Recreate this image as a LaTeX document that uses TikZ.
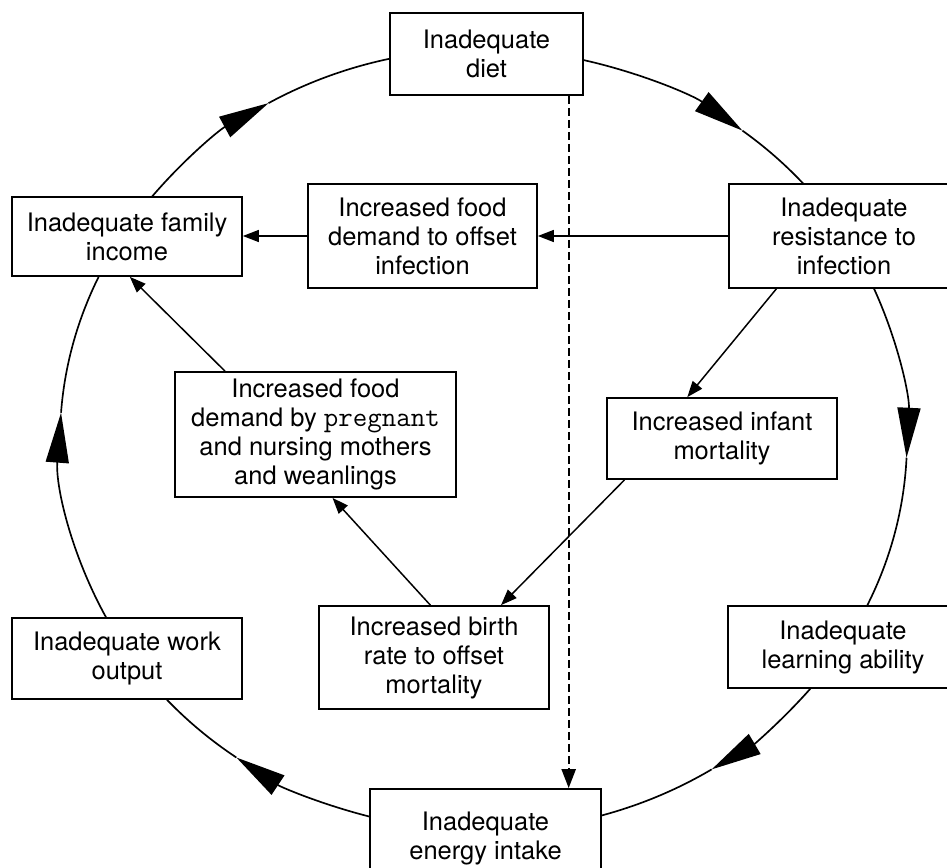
\documentclass[tikz,border=0pt]{standalone}
\usepackage{fontspec}
\setmainfont{TeX Gyre Heros}
\usetikzlibrary{arrows.meta,backgrounds}

\begin{document}
\begin{tikzpicture}[x=0.02cm,y=-0.02cm,
  box/.style={draw, line width=1pt, fill=white, align=center, inner sep=0pt,
    font=\fontsize{14.5}{16.5}\selectfont},
  ring/.style={line width=0.95pt},
  bigtip/.style={-{Triangle[length=1cm,width=0.46cm]}},
  link/.style={line width=0.85pt,-{Triangle[length=0.32cm,width=0.24cm]}},
  dashlink/.style={line width=1.3pt, dash pattern=on 0.16cm off 0.08cm,
    -{Triangle[length=0.38cm,width=0.28cm]}},
]
\useasboundingbox (0,0) rectangle (947,868);

% boxes
\node[box, minimum width=3.86cm, minimum height=1.64cm] (diet) at (486.5,54) {Inadequate\\diet};
\node[box, minimum width=4.6cm, minimum height=1.58cm] (income) at (127,236.5) {Inadequate family\\income};
\node[box, minimum width=4.58cm, minimum height=2.08cm] (offset) at (422.5,236) {Increased food\\demand to offset\\infection};
\node[box, minimum width=4.6cm, minimum height=2.08cm] (resist) at (844,236) {Inadequate\\resistance to\\infection};
\node[box, minimum width=5.62cm, minimum height=2.5cm] (mothers) at (315.5,434.5) {Increased food\\demand by {\fontsize{16}{16.5}\selectfont\ttfamily pregnant}\\and nursing mothers\\and weanlings};
\node[box, minimum width=4.6cm, minimum height=1.62cm] (infant) at (722,438.5) {Increased infant\\mortality};
\node[box, minimum width=4.6cm, minimum height=2.06cm] (birth) at (434,657.5) {Increased birth\\rate to offset\\mortality};
\node[box, minimum width=4.6cm, minimum height=1.62cm] (work) at (127,658.5) {Inadequate work\\output};
\node[box, minimum width=4.6cm, minimum height=1.64cm] (learn) at (843,647) {Inadequate\\learning ability};
\node[box, minimum width=4.62cm, minimum height=1.96cm] (energy) at (485.5,838) {Inadequate\\energy intake};

% the outer cycle: elliptical arcs running behind the boxes
\begin{scope}[on background layer]
\begin{scope}[ring, shift={(483.5,440)}, x radius=423.5, y radius=391]
  \coordinate (r1a) at (-78:423.5 and 391);
  \coordinate (r1t) at (-52.3:423.5 and 391);
  \coordinate (r2a) at (-25:423.5 and 391);
  \coordinate (r2t) at (2.6:423.5 and 391);
  \coordinate (r3a) at (37:423.5 and 391);
  \coordinate (r3t) at (57.4:423.5 and 391);
  \coordinate (r4a) at (103:423.5 and 391);
  \coordinate (r4t) at (125.7:423.5 and 391);
  \coordinate (r5a) at (151:423.5 and 391);
  \coordinate (r5t) at (184:423.5 and 391);
  \coordinate (r6a) at (216:423.5 and 391);
  \coordinate (r6t) at (239.5:423.5 and 391);

  \draw[bigtip] (r1a) arc[start angle=-78, end angle=-52.3];
  \draw (r1t) arc[start angle=-52.3, end angle=-39];
  \draw[bigtip] (r2a) arc[start angle=-25, end angle=2.6];
  \draw (r2t) arc[start angle=2.6, end angle=27];
  \draw[bigtip] (r3a) arc[start angle=37, end angle=57.4];
  \draw (r3t) arc[start angle=57.4, end angle=76];
  \draw[bigtip] (r4a) arc[start angle=103, end angle=125.7];
  \draw (r4t) arc[start angle=125.7, end angle=140];
  \draw[bigtip] (r5a) arc[start angle=151, end angle=184];
  \draw (r5t) arc[start angle=184, end angle=207];
  \draw[bigtip] (r6a) arc[start angle=216, end angle=239.5];
  \draw (r6t) arc[start angle=239.5, end angle=259];
\end{scope}
\end{scope}

% inner links
\draw[link] (offset.west) -- (offset.west -| income.east);
\draw[link] (resist.west) -- (resist.west -| offset.east);
\draw[link] (resist.218) -- (infant.130);
\draw[link] (infant.203) -- (birth.38);
\draw[link] (birth.94) -- (mothers.285);
\draw[link] (mothers.145) -- (income.274);
\draw[dashlink] (diet.333) -- (diet.333 |- energy.north);
\end{tikzpicture}
\end{document}
